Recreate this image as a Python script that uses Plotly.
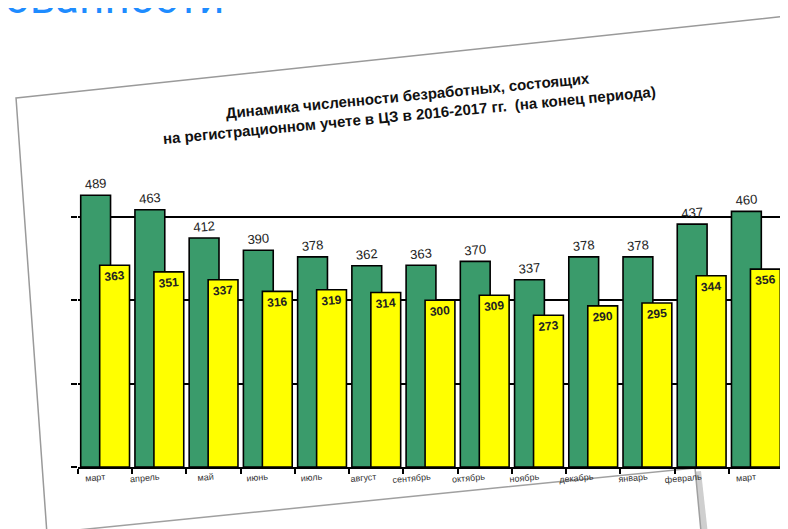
import plotly.graph_objects as go

# ---- data ----
months = ["март", "апрель", "май", "июнь", "июль", "август", "сентябрь",
          "октябрь", "ноябрь", "декабрь", "январь", "февраль", "март"]
series_prev = [489, 463, 412, 390, 378, 362, 363, 370, 337, 378, 378, 437, 460]
series_curr = [363, 351, 337, 316, 319, 314, 300, 309, 273, 290, 295, 344, 356]
name_prev = "2015-2016 гг."
name_curr = "2016-2017 гг."
title_lines = ["Динамика численности безработных, состоящих",
               "на регистрационном учете в ЦЗ в 2016-2017 гг.  (на конец периода)"]
heading = "востребованности"

W, H = 788, 529
L, R, T, B = 70, 13, 170, 70
PW, PH = W - L - R, H - T - B

def px(x):
    return (x - L) / PW

def py(y):
    return (H - B - y) / PH

def poly(points):
    return "M " + " L ".join(f"{px(x):.4f},{py(y):.4f}" for x, y in points) + " Z"

xs = list(range(len(months)))
GREEN = "#3A9B6B"
YELLOW = "#FFFF00"
FONT = "Arial, Liberation Sans, sans-serif"

fig = go.Figure()
fig.add_trace(go.Bar(
    x=xs, y=series_prev, name=name_prev,
    width=0.55, offset=-0.45,
    marker=dict(color=GREEN, line=dict(color="black", width=1.6)),
    text=series_prev, textposition="outside", textangle=-5,
    textfont=dict(family=FONT, size=13, color="#222"),
    cliponaxis=False,
))
fig.add_trace(go.Bar(
    x=xs, y=series_curr, name=name_curr,
    width=0.55, offset=-0.10,
    marker=dict(color=YELLOW, line=dict(color="black", width=1.6)),
    text=series_curr, textposition="inside", insidetextanchor="end", textangle=-5,
    textfont=dict(family=FONT, size=12, color="#222", weight="bold"),
    cliponaxis=False,
))

shapes = [
    # shadow of chart card
    dict(type="path", xref="paper", yref="paper", layer="below",
         path=poly([(14, 96), (786, 14), (800, 540), (46, 540)]),
         fillcolor="#d9d9d9", line=dict(width=0)),
    # chart card
    dict(type="path", xref="paper", yref="paper", layer="below",
         path=poly([(8, 90), (780, 8), (795, 540), (40, 540)]),
         fillcolor="white", line=dict(color="#9a9a9a", width=1.5)),
    # lower card shadow
    dict(type="path", xref="paper", yref="paper", layer="below",
         path=poly([(-10, 535), (693, 463), (702, 545), (-10, 545)]),
         fillcolor="#cfcfcf", line=dict(width=0)),
    # lower card
    dict(type="path", xref="paper", yref="paper", layer="below",
         path=poly([(-10, 530), (687, 460), (695, 545), (-10, 545)]),
         fillcolor="white", line=dict(color="#a0a0a0", width=1.5)),
]

annotations = [
    dict(xref="paper", yref="paper", x=px(400), y=py(98),
         xanchor="center", yanchor="middle",
         text="<b>" + title_lines[0] + "</b><br><b>" + title_lines[1] + "</b>",
         showarrow=False, textangle=-5.5, align="center",
         font=dict(family=FONT, size=15, color="#111")),
    dict(xref="paper", yref="paper", x=px(218), y=py(18),
         xanchor="right", yanchor="bottom", text=heading, showarrow=False,
         font=dict(family="Roboto, Arial, sans-serif", size=44, color="#1E8CFF")),
]

fig.update_layout(
    width=W, height=H,
    margin=dict(l=L, r=R, t=T, b=B),
    paper_bgcolor="white", plot_bgcolor="rgba(0,0,0,0)",
    barmode="overlay", showlegend=False,
    shapes=shapes, annotations=annotations,
    font=dict(family=FONT),
)
fig.update_xaxes(
    range=[-0.5, len(months) - 0.5],
    tickvals=xs, ticktext=months, ticks="", tickangle=-5,
    tickfont=dict(family=FONT, size=9, color="#333"),
    showline=True, linecolor="black", linewidth=1.8, showgrid=False,
    minor=dict(ticks="outside", tick0=0.5, dtick=1, ticklen=5,
               tickcolor="black", tickwidth=1.5, showgrid=False),
)
fig.update_yaxes(
    range=[0, 520], dtick=150, showticklabels=False,
    ticks="outside", ticklen=6, tickcolor="black", tickwidth=1.5,
    showgrid=True, gridcolor="black", gridwidth=1.5,
    showline=False, zeroline=False,
)

fig.write_html("out.html")
